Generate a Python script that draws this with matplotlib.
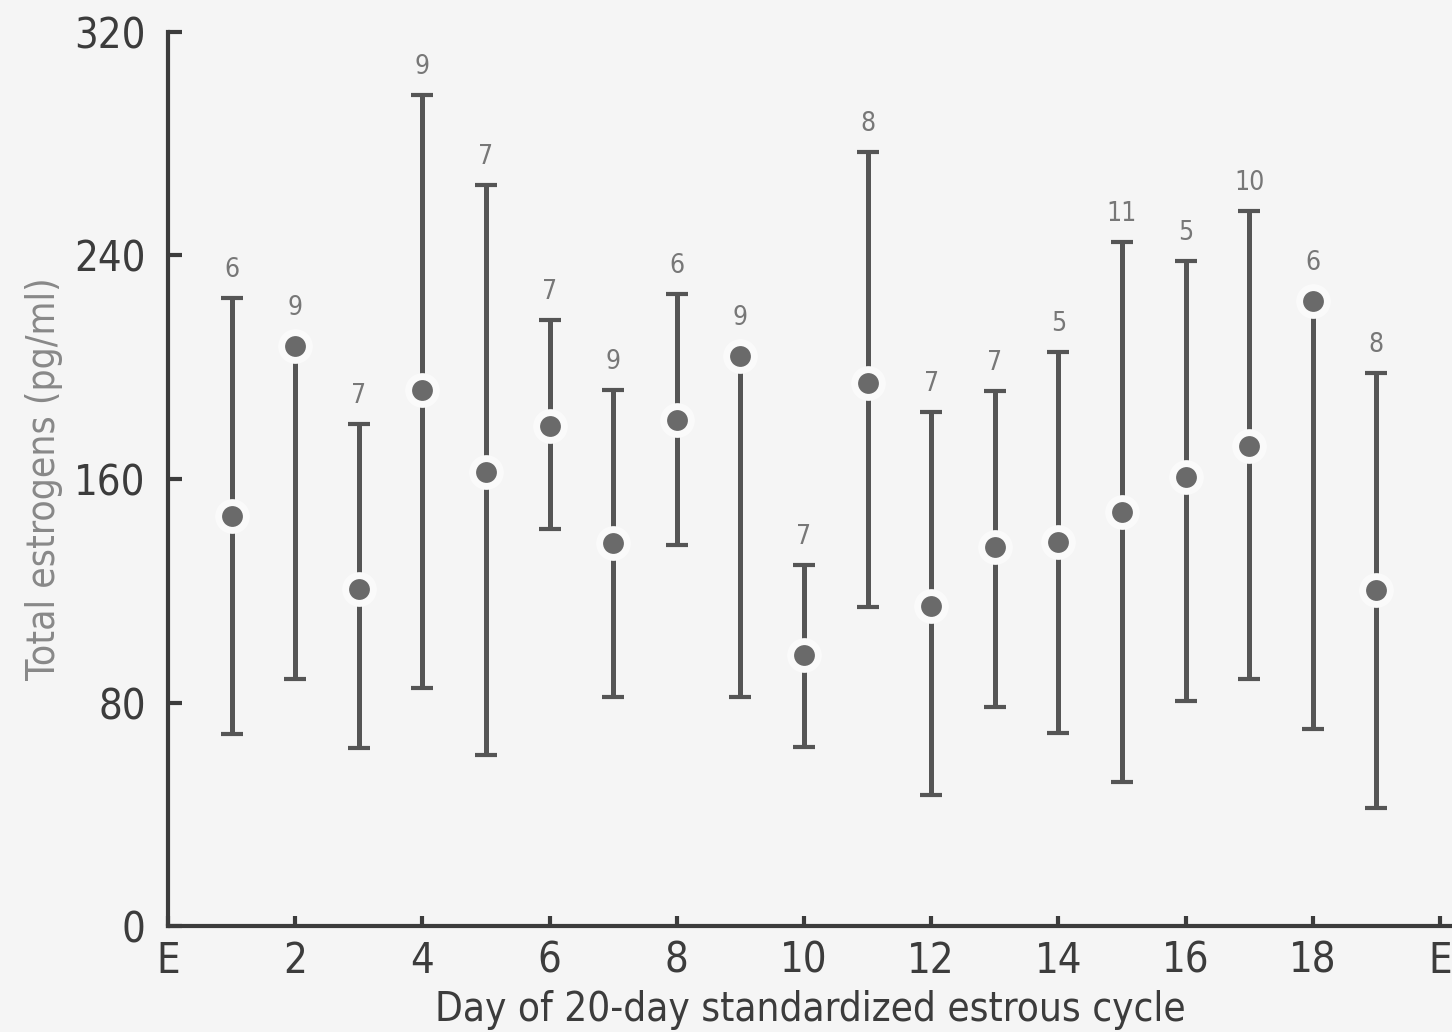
import numpy as np
import matplotlib
matplotlib.use("Agg")
import matplotlib.pyplot as plt

plt.rcParams['font.family'] = ['DejaVu Sans']
plt.rcParams['font.stretch'] = 'condensed'

# Total estrogens across the 20-day standardized estrous cycle
days = np.arange(1, 20)
means = [146.6, 207.6, 120.6, 191.8, 162.5, 179.0, 137.1, 181.1, 204.0, 97.0,
         194.3, 114.5, 135.6, 137.4, 148.2, 160.7, 171.8, 223.7, 120.3]
upper = [224.7, 207.6, 179.7, 297.4, 265.2, 216.9, 191.8, 226.2, 204.0, 129.2,
         277.0, 184.0, 191.5, 205.4, 244.8, 238.0, 255.9, 223.7, 197.9]
lower = [68.8, 88.4, 63.7, 85.2, 61.2, 142.1, 82.0, 136.4, 82.0, 64.1,
         114.2, 46.9, 78.4, 69.1, 51.5, 80.5, 88.4, 70.5, 42.2]
n_animals = [6, 9, 7, 9, 7, 7, 9, 6, 9, 7, 8, 7, 7, 5, 11, 5, 10, 6, 8]

xticks = [0, 2, 4, 6, 8, 10, 12, 14, 16, 18, 20]
xticklabels = ['E', '2', '4', '6', '8', '10', '12', '14', '16', '18', 'E']
yticks = [0, 80, 160, 240, 320]

means = np.array(means)
upper = np.array(upper)
lower = np.array(lower)

bg = '#f5f5f5'
ink = '#3c3c3c'
bar_col = '#555555'

fig = plt.figure(figsize=(14.52, 10.32), dpi=100, facecolor=bg)
ax = fig.add_axes([0.1157, 0.1027, 0.8843, 0.8663], facecolor=bg)

# error bars, then the means on top with a pale ring that breaks the bar
ax.errorbar(days, means, yerr=[means - lower, upper - means], fmt='none',
            ecolor=bar_col, elinewidth=3.6, capsize=8, capthick=3, zorder=2)
ax.plot(days, means, 'o', ms=20, mfc='#6a6a6a', mec='#fafafa', mew=5, zorder=3)

# number of animals above each bar
for d, m, u, n in zip(days, means, upper, n_animals):
    off = 18 if u <= m else 11
    ax.annotate(str(n), (d, max(u, m)), xytext=(0, off), textcoords='offset points',
                ha='center', va='bottom', fontsize=19, color='#777777')

ax.set_xlim(0, 20.19)
ax.set_ylim(0, 320)
ax.set_xticks(xticks)
ax.set_xticklabels(xticklabels)
ax.set_yticks(yticks)
ax.tick_params(axis='both', direction='in', colors=ink, labelsize=30, width=3)
ax.tick_params(axis='x', length=7, pad=10)
ax.tick_params(axis='y', length=10, pad=16)

for side in ['top', 'right']:
    ax.spines[side].set_visible(False)
for side in ['left', 'bottom']:
    ax.spines[side].set_linewidth(3)
    ax.spines[side].set_color(ink)

ax.set_xlabel('Day of 20-day standardized estrous cycle', fontsize=29,
              color=ink, labelpad=6)
ax.set_ylabel('Total estrogens (pg/ml)', fontsize=28, color='#888888', labelpad=8)

fig.savefig('out.png', dpi=100, facecolor=bg)
